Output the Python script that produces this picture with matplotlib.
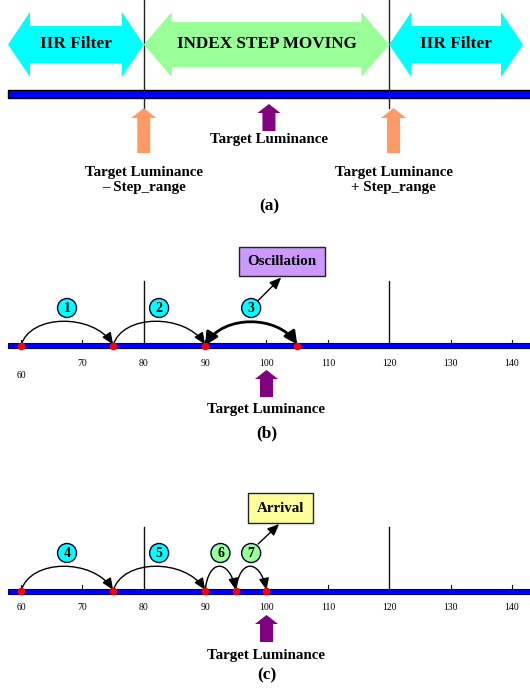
import matplotlib
matplotlib.use('Agg')
import matplotlib.pyplot as plt
from matplotlib.patches import Polygon, Rectangle, Ellipse, FancyArrowPatch
from matplotlib.path import Path

# luminance scale
tick_values = [60, 70, 80, 90, 100, 110, 120, 130, 140]
target = 100
step_range = 20
low_bound = target - step_range
high_bound = target + step_range

# (b) fixed step of 15 -> overshoots the target
osc_points = [60, 75, 90, 105]
osc_labels = ['1', '2', '3']
osc_colors = ['#00FFFF', '#00FFFF', '#00FFFF']

# (c) step shrinks inside the step range -> lands on target
arr_points = [60, 75, 90, 95, 100]
arr_labels = ['4', '5', '6', '7']
arr_colors = ['#00FFFF', '#00FFFF', '#99FF99', '#99FF99']

W, H = 530, 693
PX = 491 / 80.0          # pixels per luminance unit
X0 = 60 - 21 / PX
X1 = X0 + W / PX

SERIF = 'Liberation Serif'
CYAN = '#00FFFF'
GREEN = '#99FF99'
ORANGE = '#FF9966'
PURPLE = '#800080'

fig = plt.figure(figsize=(W / 100, H / 100), dpi=100)
ax = fig.add_axes([0, 0, 1, 1])
ax.set_xlim(X0, X1)
ax.set_ylim(H, 0)   # y measured in pixels from the top
ax.axis('off')


def px(p):
    return p / PX


def h_block(xl, xr, yc, half_h, half_body, head, color):
    hl = px(head)
    pts = [(xl, yc), (xl + hl, yc - half_h), (xl + hl, yc - half_body),
           (xr - hl, yc - half_body), (xr - hl, yc - half_h), (xr, yc),
           (xr - hl, yc + half_h), (xr - hl, yc + half_body),
           (xl + hl, yc + half_body), (xl + hl, yc + half_h)]
    ax.add_patch(Polygon(pts, closed=True, fc=color, ec='none', zorder=2))


def up_arrow(xc, top, bottom, head_w, body_w, head_len, color):
    hw, bw = px(head_w) / 2, px(body_w) / 2
    pts = [(xc, top), (xc + hw, top + head_len), (xc + bw, top + head_len),
           (xc + bw, bottom), (xc - bw, bottom), (xc - bw, top + head_len),
           (xc - hw, top + head_len)]
    ax.add_patch(Polygon(pts, closed=True, fc=color, ec='none', zorder=3))


def bold(x, y, s, size=10.8, **kw):
    ax.text(x, y, s, fontsize=size, fontweight='bold', family=SERIF,
            ha='center', va='center', zorder=6, **kw)


def hop(x0, x1, y, h, style, lw=1.0, ms=10):
    d = x1 - x0
    k = 0.2 if style.startswith('<') else 0.1
    verts = [(x0, y), (x0 + k * d, y - 1.33 * h),
             (x1 - 0.22 * d, y - 1.33 * h), (x1, y - 1)]
    codes = [Path.MOVETO, Path.CURVE4, Path.CURVE4, Path.CURVE4]
    ax.add_patch(FancyArrowPatch(path=Path(verts, codes), arrowstyle=style,
                                 mutation_scale=ms, lw=lw, color='black',
                                 zorder=4))


def number_line(y, top_line, label_y, first_label_y):
    for b in (low_bound, high_bound):
        ax.plot([b, b], [top_line, y], color='#111111', lw=1, zorder=1)
    for v in tick_values:
        if v not in (low_bound, high_bound):
            ax.plot([v, v], [y - 6, y], color='#111111', lw=0.8, zorder=1)
        ly = first_label_y if v == tick_values[0] else label_y
        ax.text(v, ly, str(v), fontsize=7, family=SERIF, ha='center',
                va='center')
    ax.add_patch(Rectangle((X0 + px(8), y - 2.5), X1 - X0, 5, fc='#0000FF',
                           ec='#000066', lw=0.8, zorder=2))


def circle(x, y, s, color):
    ax.add_patch(Ellipse((x, y), px(19), 19, fc=color, ec='#000033', lw=1,
                         zorder=5))
    bold(x, y + 0.5, s, size=10)


def target_marker(top, text_y, tag, tag_y, x=target):
    up_arrow(x, top, top + 27, 23, 13, 9, PURPLE)
    bold(x, text_y, 'Target Luminance')
    bold(x, tag_y, tag, size=12.5)


# ---- (a) regions ----
for b in (low_bound, high_bound):
    ax.plot([b, b], [0, 108], color='#222222', lw=1, zorder=1)
h_block(X0 + px(8), low_bound, 44.5, 32.5, 18.5, 22, CYAN)
h_block(low_bound, high_bound, 44.5, 32.5, 22.5, 28, GREEN)
h_block(high_bound, X0 + px(523), 44.5, 32.5, 18.5, 22, CYAN)
bold((X0 + px(8) + low_bound) / 2, 44, 'IIR Filter', size=12.5)
bold((low_bound + high_bound) / 2, 44, 'INDEX STEP MOVING', size=12.3)
bold((high_bound + X0 + px(523)) / 2, 44, 'IIR Filter', size=12.5)
ax.add_patch(Rectangle((X0 + px(8), 90), X1 - X0, 8, fc='#0000FF',
                       ec='black', lw=1, zorder=2))

up_arrow(low_bound, 108, 153, 25, 13, 10, ORANGE)
up_arrow(high_bound + 0.7, 108, 153, 25, 13, 10, ORANGE)
bold(low_bound, 180, 'Target Luminance\n\u2013 Step_range', linespacing=1.25)
bold(high_bound + 0.7, 180, 'Target Luminance\n+ Step_range',
     linespacing=1.25)
target_marker(104, 139, '(a)', 206, x=target + 0.4)

# ---- (b) oscillation ----
yb = 345.5
number_line(yb, 281, 363, 375)
for i, (a, b) in enumerate(zip(osc_points[:-1], osc_points[1:])):
    if i == len(osc_points) - 2:
        hop(a, b, yb, 23, '<|-|>,head_length=0.7,head_width=0.35',
            lw=2, ms=11)
    else:
        hop(a, b, yb, 24, '-|>,head_length=0.7,head_width=0.3')
    circle((a + b) / 2, yb - 37.5, osc_labels[i], osc_colors[i])
ax.scatter(osc_points, [yb] * len(osc_points), s=20, color='#FF0000',
           zorder=6)
c3 = (osc_points[-2] + osc_points[-1]) / 2
ax.add_patch(FancyArrowPatch((c3 + px(7), yb - 45), (c3 + px(30), yb - 68),
                             arrowstyle='-|>,head_length=0.7,head_width=0.3',
                             mutation_scale=10, lw=1, color='black',
                             shrinkA=0, shrinkB=0, zorder=4))
ax.add_patch(Rectangle((c3 + px(-12), 247), px(86), 29, fc='#CC99FF',
                       ec='#222222', lw=1, zorder=4))
bold(c3 + px(31), 261.5, 'Oscillation')
target_marker(370, 410, '(b)', 433)

# ---- (c) arrival ----
yc = 591
number_line(yc, 527, 607, 607)
for i, (a, b) in enumerate(zip(arr_points[:-1], arr_points[1:])):
    hop(a, b, yc, 24.5, '-|>,head_length=0.7,head_width=0.3')
    circle((a + b) / 2, yc - 38, arr_labels[i], arr_colors[i])
ax.scatter(arr_points, [yc] * len(arr_points), s=20, color='#FF0000',
           zorder=6)
c7 = (arr_points[-2] + arr_points[-1]) / 2
ax.add_patch(FancyArrowPatch((c7 + px(7), yc - 47), (c7 + px(28), yc - 67),
                             arrowstyle='-|>,head_length=0.7,head_width=0.3',
                             mutation_scale=10, lw=1, color='black',
                             shrinkA=0, shrinkB=0, zorder=4))
ax.add_patch(Rectangle((c7 + px(-3), 493), px(65), 30, fc='#FFFF99',
                       ec='#222222', lw=1, zorder=4))
bold(c7 + px(29.5), 508, 'Arrival')
target_marker(615, 655, '(c)', 675)

fig.savefig('out.png', dpi=100)
